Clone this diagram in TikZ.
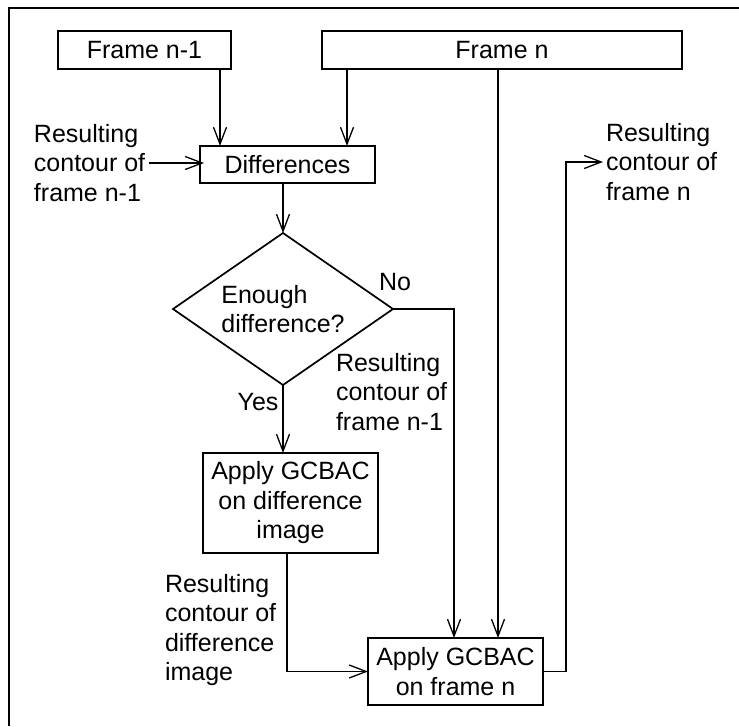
\documentclass[tikz,border=0pt]{standalone}
\usepackage{fontspec}
\setmainfont{Liberation Sans}
\usetikzlibrary{arrows.meta,shapes.geometric}
\begin{document}
\begin{tikzpicture}[x=1pt,y=-1pt,
  every node/.style={font=\fontsize{25}{29.5}\selectfont, inner sep=0pt, outer sep=0pt},
  box/.style={draw, line width=1.7pt, align=center},
  lbl/.style={align=left, anchor=west},
  conn/.style={line width=1.3pt},
  arr/.style={conn, -{Straight Barb[length=17pt,width=13pt]}}]
\useasboundingbox (0,0) rectangle (739,726);
% frame around the chart
\draw[line width=2.5pt] (9,726) -- (9,8) -- (739,8);

% process boxes
\node[box, minimum width=173pt, minimum height=38pt] (fn1) at (144.5,50) {Frame n-1};
\node[box, minimum width=360pt, minimum height=38pt] (fn) at (502,50) {Frame n};
\node[box, minimum width=175pt, minimum height=37pt] (diff) at (287.5,164.5) {Differences};
\node[draw, diamond, aspect=1.447, line width=1.7pt, minimum width=220pt, minimum height=152pt, align=left] (dec) at (283,309) {Enough\\difference?};
\node[box, minimum width=175pt, minimum height=100pt] (ad) at (290.5,503) {Apply GCBAC\\on difference\\image};
\node[box, minimum width=175pt, minimum height=67pt] (af) at (455.5,671.5) {Apply GCBAC\\on frame n};

% labels
\node[lbl] (ln) at (34,163) {Resulting\\contour of\\frame n-1};
\node[lbl] (rn) at (606,162) {Resulting\\contour of\\frame n};
\node[lbl] (mn) at (336,392) {Resulting\\contour of\\frame n-1};
\node[lbl] (dl) at (165,630) {Resulting\\contour of\\difference\\image};
\node (yes) at (258,402) {Yes};
\node (no) at (395,282) {No};

% connectors
\draw[arr] ([xshift=-11pt]fn1.south east) -- ([xshift=-11pt]fn1.south east |- diff.north);
\draw[arr] ([xshift=25pt]fn.south west) -- ([xshift=25pt]fn.south west |- diff.north);
\draw[arr] ([xshift=-4pt]fn.south) -- ([xshift=-4pt]fn.south |- af.north);
\draw[arr] ([xshift=4pt]ln.east) -- ([xshift=4pt]ln.east -| diff.west);
\draw[arr] (diff.south -| dec.north) -- (dec.north);
\draw[arr] (dec.east) -| ([xshift=-1.5pt]af.north);
\draw[arr] (dec.south) -- (dec.south |- ad.north);
\draw[arr] ([xshift=-3.5pt]ad.south) |- (af.west);
\draw[arr] (af.east) -- ++(23,0) |- ([xshift=-3pt]rn.west);
\end{tikzpicture}
\end{document}
